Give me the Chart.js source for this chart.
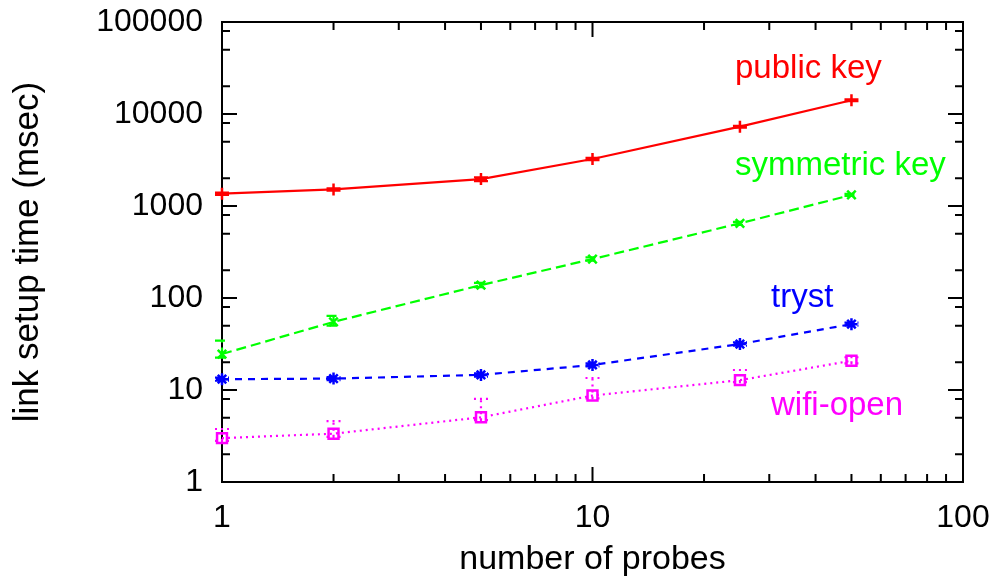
<!DOCTYPE html>
<html>
<head>
<meta charset="utf-8">
<script src="https://cdn.jsdelivr.net/npm/chart.js@4"></script>
<style>
html,body{margin:0;padding:0;background:#fff;}
#wrap{width:1000px;height:584px;position:relative;}
</style>
</head>
<body>
<div id="wrap"><canvas id="c" width="1000" height="584"></canvas></div>
<script>
// ---- data ----
const probes = [1, 2, 5, 10, 25, 50];
const publicKey     = [1360, 1515, 1960, 3240, 7280, 14100];
const publicKeyLow  = [1320, 1470, 1860, 3150, 7100, 13800];
const publicKeyHigh = [1400, 1560, 2050, 3330, 7450, 14400];
const symmetricKey     = [24.6, 55, 138, 265, 648, 1318];
const symmetricKeyLow  = [22.5, 50, 131, 255, 625, 1285];
const symmetricKeyHigh = [34.4, 64, 146, 276, 672, 1352];
const tryst     = [13.1, 13.3, 14.6, 18.7, 31.6, 52];
const trystLow  = [12.6, 12.8, 14.0, 18.0, 30.3, 50];
const trystHigh = [13.6, 13.8, 15.2, 19.5, 33.0, 54];
const wifiOpen     = [3.0, 3.35, 5.05, 8.7, 12.8, 20.8];
const wifiOpenLow  = [2.8, 3.1, 4.7, 8.1, 12.2, 19.5];
const wifiOpenHigh = [3.77, 4.6, 8.0, 13.5, 16.5, 22.7];
const xTickValues = [1, 10, 100];
const yTickValues = [1, 10, 100, 1000, 10000, 100000];
const seriesNames = ['public key', 'symmetric key', 'tryst', 'wifi-open'];

const FONT = '"Liberation Sans", Arial, Helvetica, sans-serif';

function pts(ys){ return probes.map((x,i)=>({x:x, y:ys[i]})); }

const datasets = [
  {label: seriesNames[0], data: pts(publicKey), lo: publicKeyLow, hi: publicKeyHigh,
   borderColor:'#ff0000', borderWidth:2.2, borderDash:[], pointStyle:'cross', pointRadius:6,
   pointBorderWidth:2.5, pointBorderColor:'#ff0000', pointBackgroundColor:'#ff0000', clip:false},
  {label: seriesNames[1], data: pts(symmetricKey), lo: symmetricKeyLow, hi: symmetricKeyHigh,
   borderColor:'#00ff00', borderWidth:2.2, borderDash:[10,5], pointStyle:'crossRot', pointRadius:6,
   pointBorderWidth:2.5, pointBorderColor:'#00ff00', pointBackgroundColor:'#00ff00', clip:false},
  {label: seriesNames[2], data: pts(tryst), lo: trystLow, hi: trystHigh,
   borderColor:'#0000ff', borderWidth:2.2, borderDash:[7,6], pointStyle:'star', pointRadius:6,
   pointBorderWidth:2.5, pointBorderColor:'#0000ff', pointBackgroundColor:'#0000ff', clip:false},
  {label: seriesNames[3], data: pts(wifiOpen), lo: wifiOpenLow, hi: wifiOpenHigh,
   borderColor:'#ff00ff', borderWidth:2.2, borderDash:[2,4], pointStyle:'rect', pointRadius:7,
   pointBorderWidth:2.5, pointBorderColor:'#ff00ff', pointBackgroundColor:'rgba(0,0,0,0)', clip:false}
];

const labelPos = [
  {text: seriesNames[0], color:'#ff0000', x:735, y:78},
  {text: seriesNames[1], color:'#00ff00', x:735, y:175},
  {text: seriesNames[2], color:'#0000ff', x:771, y:307},
  {text: seriesNames[3], color:'#ff00ff', x:771, y:415}
];

const errorBars = {
  id:'errorBars',
  beforeDatasetsDraw(chart){
    const ctx = chart.ctx, xs = chart.scales.x, ys = chart.scales.y;
    ctx.save();
    chart.data.datasets.forEach(ds=>{
      ctx.strokeStyle = ds.borderColor; ctx.lineWidth = 2.2;
      ctx.setLineDash(ds.borderDash || []);
      ds.data.forEach((p,i)=>{
        const px = xs.getPixelForValue(p.x);
        const y1 = ys.getPixelForValue(ds.lo[i]);
        const y2 = ys.getPixelForValue(ds.hi[i]);
        ctx.beginPath();
        ctx.moveTo(px, y1); ctx.lineTo(px, y2);
        ctx.moveTo(px-7, y1); ctx.lineTo(px+7, y1);
        ctx.moveTo(px-7, y2); ctx.lineTo(px+7, y2);
        ctx.stroke();
      });
    });
    ctx.restore();
  }
};

const frame = {
  id:'frame',
  beforeDatasetsDraw(chart){
    const ctx = chart.ctx, xs = chart.scales.x, ys = chart.scales.y;
    const a = chart.chartArea;
    ctx.save();
    ctx.strokeStyle = '#000'; ctx.lineWidth = 2; ctx.setLineDash([]);
    ctx.strokeRect(a.left, a.top, a.right-a.left, a.bottom-a.top);
    ctx.beginPath();
    for (let d = 0; d < yTickValues.length; d++) {
      const base = yTickValues[d];
      const py = ys.getPixelForValue(base);
      ctx.moveTo(a.left, py); ctx.lineTo(a.left+15, py);
      ctx.moveTo(a.right, py); ctx.lineTo(a.right-15, py);
      if (d < yTickValues.length-1) {
        [2,5,8].forEach(m=>{
          const q = ys.getPixelForValue(base*m);
          ctx.moveTo(a.left, q); ctx.lineTo(a.left+8, q);
          ctx.moveTo(a.right, q); ctx.lineTo(a.right-8, q);
        });
      }
    }
    for (let d = 0; d < xTickValues.length; d++) {
      const base = xTickValues[d];
      const px = xs.getPixelForValue(base);
      ctx.moveTo(px, a.bottom); ctx.lineTo(px, a.bottom-15);
      ctx.moveTo(px, a.top); ctx.lineTo(px, a.top+15);
      if (d < xTickValues.length-1) {
        for (let m = 2; m <= 9; m++) {
          const q = xs.getPixelForValue(base*m);
          ctx.moveTo(q, a.bottom); ctx.lineTo(q, a.bottom-8);
          ctx.moveTo(q, a.top); ctx.lineTo(q, a.top+8);
        }
      }
    }
    ctx.stroke();
    ctx.restore();
  },
  afterDatasetsDraw(chart){
    const ctx = chart.ctx;
    ctx.save();
    ctx.font = '33px ' + FONT;
    ctx.textBaseline = 'alphabetic'; ctx.textAlign = 'left';
    labelPos.forEach(l=>{ ctx.fillStyle = l.color; ctx.fillText(l.text, l.x, l.y); });
    ctx.restore();
  }
};

new Chart(document.getElementById('c'), {
  type:'line',
  data:{ datasets: datasets },
  options:{
    responsive:false, animation:false,
    layout:{ autoPadding:false, padding:{left:0, right:37, top:22, bottom:0} },
    elements:{ line:{ tension:0, fill:false } },
    plugins:{ legend:{display:false}, tooltip:{enabled:false} },
    scales:{
      x:{
        type:'logarithmic', min:1, max:100,
        afterFit(s){ s.height = 102; s.paddingLeft = 0; s.paddingRight = 0; s.paddingTop = 0; s.paddingBottom = 0; },
        afterBuildTicks(s){ s.ticks = xTickValues.map(v=>({value:v})); },
        grid:{ display:false, drawTicks:false },
        border:{ display:false },
        ticks:{ color:'#000', font:{family:FONT, size:32}, padding:17, maxRotation:0, autoSkip:false,
                callback:(v)=>String(v) },
        title:{ display:true, text:'number of probes', color:'#000', font:{family:FONT, size:34},
                padding:{top:0, bottom:4} }
      },
      y:{
        type:'logarithmic', min:1, max:100000,
        afterFit(s){ s.width = 222; s.paddingLeft = 0; s.paddingRight = 0; s.paddingTop = 0; s.paddingBottom = 0; },
        afterBuildTicks(s){ s.ticks = yTickValues.map(v=>({value:v})); },
        grid:{ display:false, drawTicks:false },
        border:{ display:false },
        ticks:{ color:'#000', font:{family:FONT, size:32}, padding:19, autoSkip:false,
                callback:(v)=>String(v) },
        title:{ display:true, text:'link setup time (msec)', color:'#000', font:{family:FONT, size:35},
                padding:{top:7, bottom:0} }
      }
    }
  },
  plugins:[frame, errorBars]
});
</script>
</body>
</html>
